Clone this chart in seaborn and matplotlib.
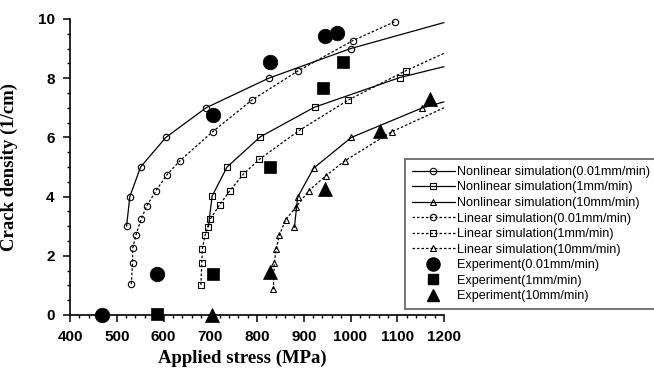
import matplotlib
matplotlib.use("Agg")
import matplotlib.pyplot as plt
from matplotlib.lines import Line2D
from matplotlib.ticker import MultipleLocator
import seaborn as sns

# ---- data ----
nl001_x = [521, 528, 551, 605, 691, 825, 1000, 1200]
nl001_y = [3.0, 4.0, 5.0, 6.0, 7.0, 8.0, 9.0, 9.88]
nl1_x = [696, 704, 736, 807, 923, 1105, 1200]
nl1_y = [2.98, 4.02, 5.0, 6.02, 7.02, 8.02, 8.39]
nl10_x = [880, 887, 921, 1002, 1154, 1200]
nl10_y = [2.96, 3.98, 4.96, 6.0, 7.0, 7.2]

lin001_x = [531, 534, 534, 541, 552, 564, 584, 607, 635, 705, 789, 887, 1005, 1095]
lin001_y = [1.04, 1.77, 2.25, 2.7, 3.23, 3.68, 4.2, 4.73, 5.21, 6.19, 7.26, 8.24, 9.27, 9.91]
lin1_x = [680, 682, 683, 689, 700, 720, 742, 771, 805, 889, 995, 1118, 1200]
lin1_y = [1.01, 1.77, 2.22, 2.7, 3.24, 3.72, 4.2, 4.76, 5.26, 6.22, 7.26, 8.25, 8.84]
lin10_x = [835, 837, 841, 848, 861, 884, 911, 947, 988, 1088, 1200]
lin10_y = [0.87, 1.77, 2.22, 2.7, 3.21, 3.66, 4.2, 4.7, 5.21, 6.19, 7.0]

exp001_x = [469, 587, 705, 827, 945, 971]
exp001_y = [0.0, 1.39, 6.76, 8.56, 9.43, 9.52]
exp1_x = [587, 705, 827, 941, 984]
exp1_y = [0.05, 1.39, 5.01, 7.66, 8.56]
exp10_x = [704, 827, 945, 1063, 1170]
exp10_y = [0.0, 1.46, 4.25, 6.22, 7.3]

labels = [
    "Nonlinear simulation(0.01mm/min)",
    "Nonlinear simulation(1mm/min)",
    "Nonlinear simulation(10mm/min)",
    "Linear simulation(0.01mm/min)",
    "Linear simulation(1mm/min)",
    "Linear simulation(10mm/min)",
    "Experiment(0.01mm/min)",
    "Experiment(1mm/min)",
    "Experiment(10mm/min)",
]

sns.set_theme(style="ticks")
plt.rcParams["font.family"] = ["Liberation Sans", "DejaVu Sans"]

fig = plt.figure(figsize=(6.54, 3.71), dpi=100)
ax = fig.add_axes([70 / 654, 1 - 315 / 371, (444 - 70) / 654, (315 - 19) / 371])

SOLID = "-"
DOT = (0, (2.0, 1.6))
LW = 0.9
ms_open = 4.6

sim = [
    (nl001_x, nl001_y, SOLID, "o", slice(0, -1)),
    (nl1_x, nl1_y, SOLID, "s", slice(0, -1)),
    (nl10_x, nl10_y, SOLID, "^", slice(0, -1)),
    (lin001_x, lin001_y, DOT, "o", None),
    (lin1_x, lin1_y, DOT, "s", slice(0, -1)),
    (lin10_x, lin10_y, DOT, "^", slice(0, -1)),
]
for xs, ys, ls, mk, me in sim:
    sns.lineplot(x=xs, y=ys, ax=ax, estimator=None, sort=False, color="black",
                 linestyle=ls, linewidth=LW, marker=mk, markevery=me,
                 markersize=ms_open, markerfacecolor="none",
                 markeredgecolor="black", markeredgewidth=0.8, clip_on=False)

exps = [(exp001_x, exp001_y, "o", 10.5), (exp1_x, exp1_y, "s", 8.5),
        (exp10_x, exp10_y, "^", 9.5)]
for xs, ys, mk, ms in exps:
    sns.lineplot(x=xs, y=ys, ax=ax, estimator=None, sort=False, color="black",
                 linestyle="none", marker=mk, markersize=ms,
                 markerfacecolor="black", markeredgecolor="black",
                 markeredgewidth=0.5, clip_on=False, zorder=5)

ax.set_xlim(400, 1200)
ax.set_ylim(0, 10)
ax.xaxis.set_major_locator(MultipleLocator(100))
ax.xaxis.set_minor_locator(MultipleLocator(20))
ax.yaxis.set_major_locator(MultipleLocator(2))
ax.yaxis.set_minor_locator(MultipleLocator(0.5))
ax.tick_params(which="major", length=5, width=1.1, color="black", pad=6,
               labelsize=11)
ax.tick_params(which="minor", length=2.5, width=1.0, color="black")
for lab in ax.get_xticklabels() + ax.get_yticklabels():
    lab.set_fontweight("bold")
    lab.set_color("black")
sns.despine(ax=ax)
for s in ["left", "bottom"]:
    ax.spines[s].set_linewidth(1.2)
    ax.spines[s].set_color("black")

ax.set_xlabel("Applied stress (MPa)", fontsize=13.5, fontweight="bold",
              family=["Liberation Serif", "DejaVu Serif"], color="black")
ax.set_ylabel("Crack density (1/cm)", fontsize=13.5, fontweight="bold",
              family=["Liberation Serif", "DejaVu Serif"], color="black")
ax.xaxis.set_label_coords((242 - 70) / 374, -0.118)
ax.yaxis.set_label_coords(-0.14, 0.5)

handles = []
for xs, ys, ls, mk, me in sim:
    handles.append(Line2D([], [], color="black", linestyle=ls, linewidth=LW,
                          marker=mk, markersize=ms_open, markerfacecolor="none",
                          markeredgecolor="black", markeredgewidth=0.8))
for xs, ys, mk, ms in exps:
    handles.append(Line2D([], [], color="black", linestyle="none", marker=mk,
                          markersize=ms * 0.9, markerfacecolor="black",
                          markeredgecolor="black"))

leg = fig.legend(handles, labels, loc="upper left",
                 bbox_to_anchor=(405 / 654, 1 - 159 / 371),
                 bbox_transform=fig.transFigure, borderaxespad=0,
                 fontsize=9.1, frameon=True, fancybox=False, edgecolor="#444444",
                 handlelength=3.4, handletextpad=0.2, labelspacing=0.28,
                 borderpad=0.55)
leg.get_frame().set_linewidth(1.3)
for t in leg.get_texts():
    t.set_color("black")

fig.savefig("out.png", dpi=100)
